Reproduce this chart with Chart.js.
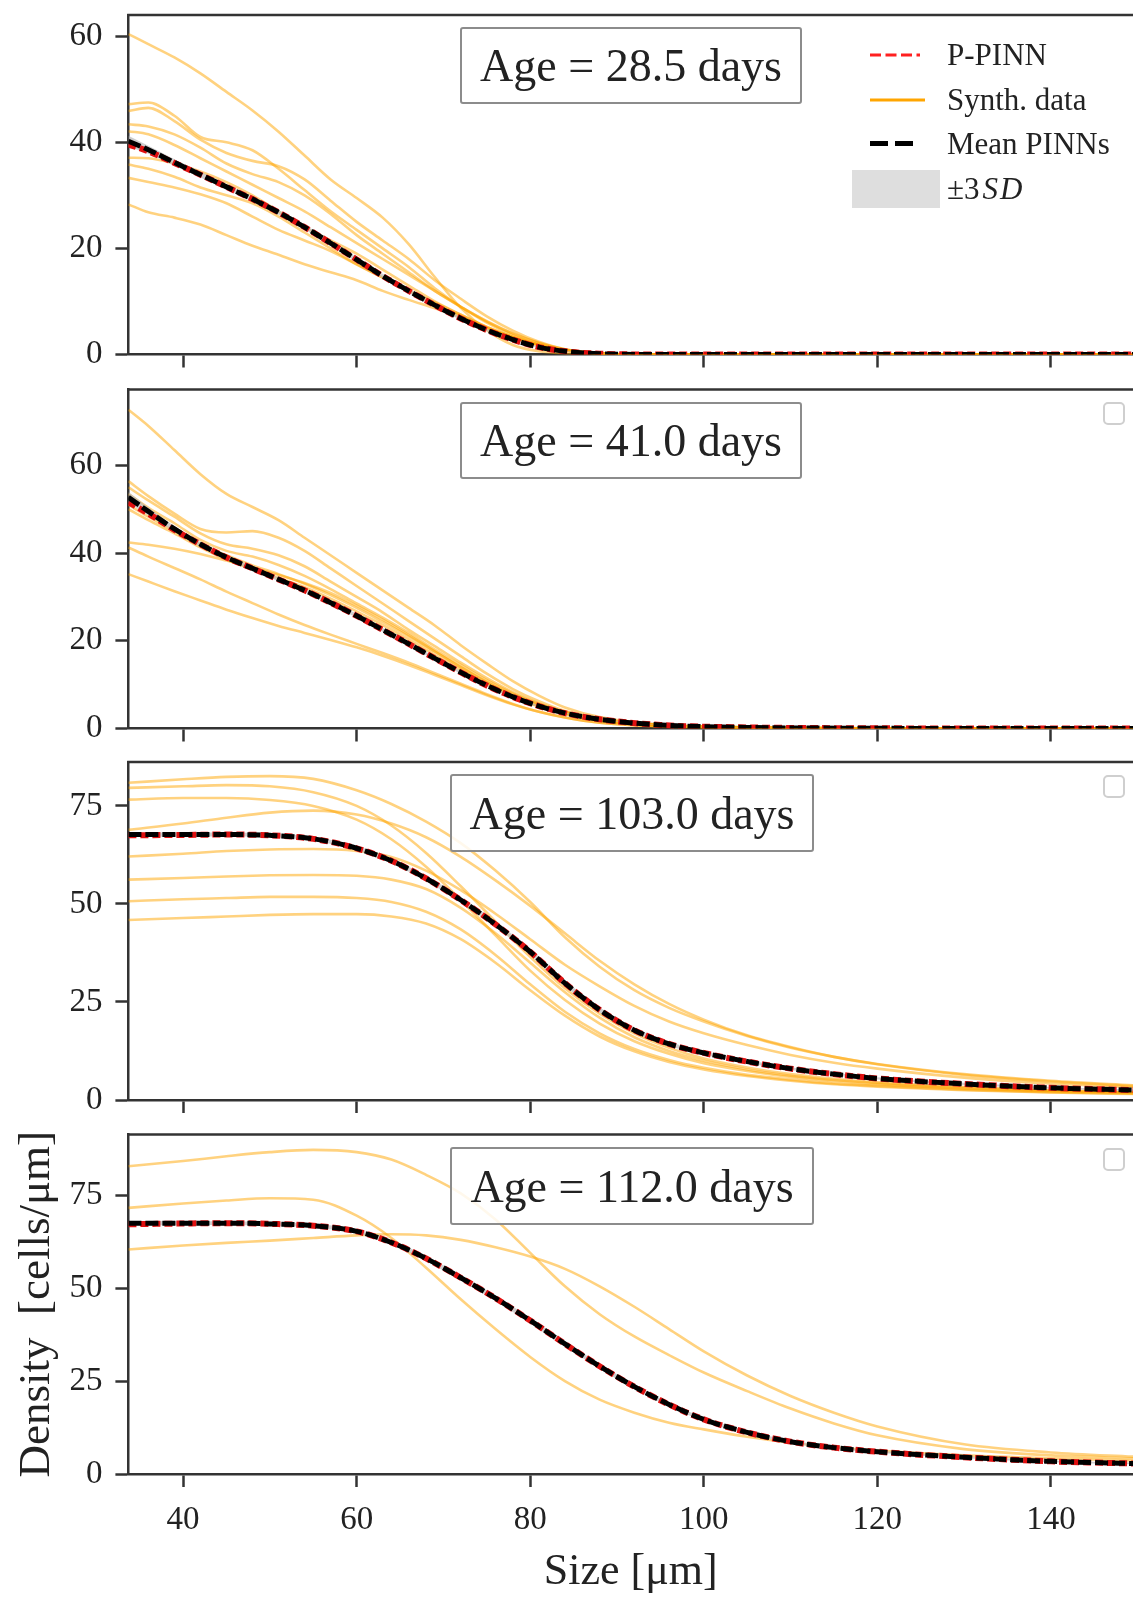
<!DOCTYPE html>
<html>
<head>
<meta charset="utf-8">
<title>P-PINN size density</title>
<script src="https://cdn.jsdelivr.net/npm/chart.js@4.4.1/dist/chart.umd.min.js"></script>
<style>
  body { margin: 0; background: #fff; }
  #page {
    position: relative; width: 1133px; height: 1610px; overflow: hidden;
    font-family: "Liberation Serif", "DejaVu Serif", serif; color: #222;
  }
  canvas { position: absolute; left: 0; }
  .age-box {
    position: absolute; box-sizing: border-box; z-index: 2;
    border: 2.5px solid #8c8c8c; border-radius: 3px;
    background: rgba(255, 255, 255, 0.85);
    font-size: 46px; display: flex; align-items: center; justify-content: center;
  }
  .empty-legend {
    position: absolute; box-sizing: border-box; z-index: 2;
    width: 22px; height: 23px; border: 2px solid #cfcfcf; border-radius: 5px;
    background: rgba(255, 255, 255, 0.8);
  }
  .legend-text {
    position: absolute; z-index: 2; font-size: 31px; line-height: 36px; white-space: nowrap;
  }
  .legend-text i { margin-left: 3px; letter-spacing: 2px; }
  #legend-marks { position: absolute; left: 840px; top: 40px; z-index: 2; }
</style>
</head>
<body>
<div id="page">
  <canvas id="panel1" width="1133" height="375" style="top:0px"></canvas>
  <canvas id="panel2" width="1133" height="372" style="top:375px"></canvas>
  <canvas id="panel3" width="1133" height="372" style="top:747px"></canvas>
  <canvas id="panel4" width="1133" height="491" style="top:1119px"></canvas>

  <div class="age-box" style="left:460px; top:27px; width:342px; height:77px;">Age = 28.5 days</div>
  <div class="age-box" style="left:460px; top:402px; width:342px; height:77px;">Age = 41.0 days</div>
  <div class="age-box" style="left:450px; top:774px; width:364px; height:78px;">Age = 103.0 days</div>
  <div class="age-box" style="left:450px; top:1147px; width:364px; height:78px;">Age = 112.0 days</div>

  <!-- legend of the first panel (no frame) -->
  <svg id="legend-marks" width="110" height="180">
    <line x1="30" y1="15" x2="80" y2="15" stroke="#ff2020" stroke-width="3.2" stroke-dasharray="11 4.5"/>
    <line x1="30" y1="60" x2="85" y2="60" stroke="#ffa500" stroke-width="3"/>
    <line x1="30" y1="103.5" x2="78" y2="103.5" stroke="#000" stroke-width="5" stroke-dasharray="18 7"/>
    <rect x="12" y="130" width="88" height="38" fill="#dedede"/>
  </svg>
  <div class="legend-text" style="left:947px; top:37px;">P-PINN</div>
  <div class="legend-text" style="left:947px; top:82px;">Synth. data</div>
  <div class="legend-text" style="left:947px; top:125.5px;">Mean PINNs</div>
  <div class="legend-text" style="left:947px; top:171px;">±3<i>SD</i></div>

  <!-- empty legends drawn by the other panels -->
  <div class="empty-legend" style="left:1103px; top:402px;"></div>
  <div class="empty-legend" style="left:1103px; top:775px;"></div>
  <div class="empty-legend" style="left:1103px; top:1148px;"></div>
</div>

<script>
/* ============================
   DATA
============================ */
// sizes in µm where the curves were sampled
const sizeEarly = [33.7, 36, 39, 42, 45, 48, 51, 54, 57, 60, 63, 66, 69, 72, 75, 78, 81, 84, 88, 95, 105, 120, 135, 150];
const sizeLate = [33.7, 40, 45, 50, 55, 60, 64, 68, 72, 76, 80, 84, 88, 92, 96, 100, 105, 110, 115, 120, 130, 140, 150];
const xTicks = [40, 60, 80, 100, 120, 140];
const yTicksLow = [0, 20, 40, 60];
const yTicksHigh = [0, 25, 50, 75];

// Age = 28.5 days
const mean1 = [40.2, 38.6, 36.2, 33.9, 31.6, 29.3, 26.8, 24.0, 21.0, 17.9, 14.8, 12.0, 9.3, 6.8, 4.6, 2.8, 1.4, 0.6, 0.15, 0, 0, 0, 0, 0];
const pinn1 = [39.6, 38.3, 36.1, 33.9, 31.6, 29.3, 26.8, 24.0, 21.0, 17.9, 14.8, 12.0, 9.3, 6.8, 4.6, 2.8, 1.4, 0.6, 0.15, 0, 0, 0, 0, 0];
const sd1 = [0.35, 0.25, 0.2, 0.18, 0.16, 0.15, 0.15, 0.15, 0.15, 0.15, 0.14, 0.13, 0.12, 0.1, 0.08, 0.06, 0.04, 0.03, 0.02, 0.01, 0, 0, 0, 0];
const synth1 = [
  [60.4, 58.5, 56.0, 53.0, 49.5, 46.0, 42.0, 37.5, 33.0, 29.5, 25.8, 20.8, 14.6, 8.8, 4.6, 1.8, 0.6, 0.2, 0, 0, 0, 0, 0, 0],
  [47.2, 47.5, 45.0, 41.0, 40.0, 38.5, 35.0, 31.0, 27.0, 23.5, 20.0, 16.5, 12.5, 9.0, 6.0, 3.6, 1.8, 0.7, 0.15, 0, 0, 0, 0, 0],
  [45.9, 46.5, 44.0, 40.5, 38.0, 36.5, 35.5, 33.0, 29.0, 25.0, 21.5, 18.0, 14.0, 10.5, 7.2, 4.5, 2.4, 1.0, 0.25, 0, 0, 0, 0, 0],
  [43.4, 43.0, 41.5, 39.0, 36.0, 34.0, 32.5, 30.0, 26.5, 22.5, 19.0, 15.5, 12.0, 9.0, 6.2, 3.9, 2.1, 0.9, 0.2, 0, 0, 0, 0, 0],
  [42.1, 41.5, 39.5, 37.0, 34.5, 32.0, 29.5, 27.0, 24.0, 21.0, 18.0, 15.0, 12.0, 9.0, 6.3, 4.0, 2.2, 1.0, 0.25, 0, 0, 0, 0, 0],
  [37.1, 37.0, 36.0, 34.5, 32.5, 30.0, 27.0, 24.0, 21.5, 19.0, 16.0, 13.0, 10.0, 7.5, 5.2, 3.3, 1.8, 0.8, 0.2, 0, 0, 0, 0, 0],
  [35.8, 35.0, 33.5, 31.5, 30.0, 28.5, 26.0, 23.0, 20.0, 17.0, 14.5, 12.0, 9.5, 7.2, 5.0, 3.2, 1.8, 0.8, 0.2, 0, 0, 0, 0, 0],
  [33.3, 32.5, 31.5, 30.2, 28.5, 26.0, 23.5, 21.5, 19.5, 17.0, 14.5, 12.0, 9.8, 7.5, 5.2, 3.3, 1.8, 0.8, 0.2, 0, 0, 0, 0, 0],
  [28.3, 26.8, 25.8, 24.5, 22.5, 20.5, 18.8, 17.0, 15.5, 14.0, 12.0, 10.3, 8.7, 7.0, 5.0, 3.2, 1.8, 0.8, 0.2, 0, 0, 0, 0, 0],
];

// Age = 41.0 days
const mean2 = [52.7, 49.5, 45.5, 42.0, 39.0, 36.5, 34.0, 31.5, 28.7, 25.7, 22.5, 19.3, 16.0, 12.8, 9.8, 7.2, 5.1, 3.5, 2.1, 0.8, 0.25, 0.05, 0, 0];
const pinn2 = [51.6, 49.0, 45.3, 42.0, 39.0, 36.5, 34.0, 31.5, 28.7, 25.7, 22.5, 19.3, 16.0, 12.8, 9.8, 7.2, 5.1, 3.5, 2.1, 0.8, 0.25, 0.05, 0, 0];
const sd2 = [0.4, 0.3, 0.22, 0.18, 0.16, 0.15, 0.15, 0.15, 0.15, 0.15, 0.14, 0.13, 0.12, 0.11, 0.1, 0.08, 0.06, 0.05, 0.04, 0.02, 0.01, 0, 0, 0];
const synth2 = [
  [72.7, 69.0, 63.5, 58.0, 53.5, 50.5, 47.5, 43.5, 39.5, 35.5, 31.5, 27.5, 23.5, 19.0, 14.8, 10.8, 7.5, 4.8, 2.6, 0.9, 0.3, 0.05, 0, 0],
  [56.4, 53.0, 49.0, 45.5, 44.7, 45.0, 43.5, 40.5, 36.5, 32.5, 28.5, 24.5, 20.5, 16.5, 12.5, 9.0, 6.2, 4.0, 2.2, 0.8, 0.25, 0.05, 0, 0],
  [55.0, 52.0, 48.3, 44.5, 42.0, 41.0, 39.5, 37.0, 33.5, 30.0, 26.5, 22.5, 18.8, 15.0, 11.5, 8.3, 5.7, 3.8, 2.1, 0.8, 0.25, 0.05, 0, 0],
  [53.5, 50.3, 46.8, 43.0, 40.5, 39.2, 37.3, 34.8, 31.8, 28.5, 25.3, 21.8, 18.0, 14.5, 11.0, 8.0, 5.6, 3.7, 2.0, 0.75, 0.2, 0.05, 0, 0],
  [51.0, 48.3, 45.0, 42.0, 39.5, 37.2, 35.2, 33.0, 30.4, 27.5, 24.3, 21.0, 17.5, 14.0, 10.6, 7.7, 5.3, 3.5, 1.9, 0.7, 0.2, 0.05, 0, 0],
  [50.0, 47.5, 44.5, 41.3, 38.5, 36.3, 34.3, 32.2, 29.6, 26.7, 23.6, 20.3, 16.8, 13.3, 10.0, 7.2, 5.0, 3.3, 1.8, 0.65, 0.2, 0.05, 0, 0],
  [42.4, 41.9, 41.0, 39.8, 38.3, 36.7, 35.0, 33.2, 30.9, 28.0, 24.8, 21.3, 17.6, 13.9, 10.4, 7.5, 5.1, 3.4, 1.8, 0.65, 0.2, 0.05, 0, 0],
  [41.3, 39.2, 36.6, 34.0, 31.2, 28.6, 26.0, 23.6, 21.4, 19.3, 17.2, 15.0, 12.6, 10.2, 7.8, 5.6, 3.8, 2.5, 1.3, 0.45, 0.15, 0, 0, 0],
  [35.2, 33.5, 31.3, 29.2, 27.1, 25.2, 23.4, 21.8, 20.2, 18.5, 16.6, 14.5, 12.2, 9.9, 7.6, 5.5, 3.8, 2.5, 1.3, 0.45, 0.15, 0, 0, 0],
];

// Age = 103.0 days
const mean3 = [67.7, 67.7, 67.7, 67.5, 66.6, 64.2, 61.0, 56.5, 51.0, 44.8, 37.8, 29.8, 23.0, 17.8, 14.3, 12.0, 9.8, 8.0, 6.6, 5.5, 4.1, 3.1, 2.5];
const pinn3 = [67.5, 67.6, 67.7, 67.5, 66.6, 64.2, 61.0, 56.5, 51.0, 44.8, 37.8, 29.8, 23.0, 17.8, 14.3, 12.0, 9.8, 8.0, 6.6, 5.5, 4.1, 3.1, 2.5];
const sd3 = [0.2, 0.18, 0.17, 0.17, 0.17, 0.18, 0.2, 0.22, 0.24, 0.25, 0.25, 0.24, 0.22, 0.2, 0.18, 0.16, 0.14, 0.12, 0.11, 0.1, 0.09, 0.08, 0.08];
const synth3 = [
  [80.9, 81.8, 82.4, 82.6, 81.9, 79.0, 75.5, 71.0, 65.5, 58.5, 50.5, 41.5, 34.0, 28.0, 23.5, 20.0, 16.3, 13.3, 11.0, 9.2, 6.6, 4.9, 3.7],
  [79.6, 80.0, 80.3, 80.0, 78.5, 75.0, 70.0, 63.0, 54.5, 45.5, 36.5, 28.5, 22.0, 17.0, 13.3, 10.6, 8.3, 6.6, 5.4, 4.5, 3.3, 2.5, 2.0],
  [76.6, 77.0, 77.0, 76.5, 75.0, 71.5, 66.5, 59.5, 51.0, 42.0, 33.0, 25.5, 19.5, 15.0, 11.8, 9.4, 7.4, 5.9, 4.8, 4.0, 2.9, 2.2, 1.8],
  [68.9, 70.5, 72.0, 73.3, 73.8, 72.8, 70.5, 67.0, 62.0, 56.0, 49.5, 42.5, 35.5, 29.5, 24.5, 20.5, 16.5, 13.5, 11.0, 9.1, 6.4, 4.7, 3.5],
  [62.1, 62.8, 63.5, 63.9, 64.0, 63.5, 62.0, 58.5, 53.5, 47.5, 41.0, 34.5, 29.0, 24.0, 20.0, 17.0, 14.0, 11.5, 9.5, 8.0, 5.7, 4.2, 3.2],
  [56.2, 56.6, 57.0, 57.3, 57.4, 57.2, 56.2, 53.8, 49.0, 42.5, 35.0, 27.5, 21.0, 16.0, 12.5, 10.0, 7.8, 6.2, 5.1, 4.3, 3.1, 2.4, 1.9],
  [50.7, 51.2, 51.5, 51.8, 51.8, 51.5, 50.5, 48.0, 43.5, 37.0, 29.5, 22.5, 17.0, 13.0, 10.2, 8.2, 6.4, 5.2, 4.2, 3.6, 2.6, 2.0, 1.6],
  [45.9, 46.4, 46.8, 47.2, 47.4, 47.4, 46.8, 45.0, 41.0, 35.0, 28.0, 21.5, 16.2, 12.4, 9.7, 7.8, 6.1, 4.9, 4.0, 3.4, 2.5, 1.9, 1.5],
];

// Age = 112.0 days
const mean4 = [67.5, 67.5, 67.5, 67.3, 66.8, 65.3, 62.3, 58.0, 52.8, 47.3, 41.3, 35.0, 29.0, 23.5, 18.7, 14.7, 11.2, 8.7, 7.1, 6.0, 4.5, 3.4, 2.8];
const pinn4 = [67.2, 67.4, 67.5, 67.3, 66.8, 65.3, 62.3, 58.0, 52.8, 47.3, 41.3, 35.0, 29.0, 23.5, 18.7, 14.7, 11.2, 8.7, 7.1, 6.0, 4.5, 3.4, 2.8];
const sd4 = [0.2, 0.18, 0.17, 0.17, 0.17, 0.18, 0.2, 0.22, 0.24, 0.25, 0.25, 0.24, 0.22, 0.2, 0.18, 0.16, 0.14, 0.12, 0.11, 0.1, 0.09, 0.08, 0.08];
const synth4 = [
  [82.8, 84.2, 85.5, 86.6, 87.2, 86.6, 84.6, 80.5, 75.5, 68.5, 59.5, 50.5, 43.0, 37.0, 32.0, 27.3, 22.3, 17.6, 13.6, 10.4, 6.7, 5.0, 4.2],
  [71.6, 72.8, 73.6, 74.2, 73.8, 69.5, 63.5, 55.5, 47.0, 39.0, 31.5, 25.0, 20.0, 16.5, 13.8, 12.0, 10.0, 8.4, 7.2, 6.3, 5.0, 4.2, 3.6],
  [60.4, 61.5, 62.2, 62.8, 63.5, 64.2, 64.5, 64.2, 63.0, 61.0, 58.5, 55.2, 50.5, 45.0, 39.0, 33.0, 26.5, 21.0, 16.5, 12.8, 8.0, 5.8, 4.6],
];

/* ============================
   STYLE
============================ */
const FONT_FAMILY = "'Liberation Serif', 'DejaVu Serif', serif";
const TEXT_COLOR = "#222";
const SPINE_COLOR = "#333";
const SYNTH_COLOR = "rgba(255, 165, 0, 0.5)";
const BAND_COLOR = "rgba(185, 185, 185, 0.7)";
const PLOT_LEFT = 128.4;
const X_MIN = 33.7;
const X_MAX = 149.46;

function pts(xs, ys) {
  return xs.map((x, i) => ({ x, y: ys[i] }));
}

// edge tick labels must not shrink the plot area
function noEdgePadding(axis) {
  axis.paddingTop = 0;
  axis.paddingBottom = 0;
  axis.paddingLeft = 0;
  axis.paddingRight = 0;
}

// matplotlib draws the top spine too
const topSpine = {
  id: "topSpine",
  afterDraw(chart) {
    const { ctx, chartArea } = chart;
    ctx.save();
    ctx.strokeStyle = SPINE_COLOR;
    ctx.lineWidth = 2.5;
    ctx.beginPath();
    ctx.moveTo(chartArea.left - 1.25, chartArea.top);
    ctx.lineTo(chartArea.right + 2, chartArea.top);
    ctx.stroke();
    ctx.restore();
  },
};

/* ============================
   PANELS
============================ */
function renderPanel(p) {
  const canvas = document.getElementById(p.id);
  const xAxisHeight = p.canvasTop + canvas.height - p.plotBottom;

  const datasets = [];
  p.synth.forEach((ys) => {
    datasets.push({ data: pts(p.xs, ys), borderColor: SYNTH_COLOR, borderWidth: 2.6, order: 40 });
  });
  const lower = p.mean.map((m, i) => m - 3 * p.sd[i]);
  const upper = p.mean.map((m, i) => m + 3 * p.sd[i]);
  datasets.push({ data: pts(p.xs, lower), borderWidth: 0, borderColor: "rgba(0,0,0,0)", order: 30 });
  datasets.push({ data: pts(p.xs, upper), borderWidth: 0, borderColor: "rgba(0,0,0,0)", backgroundColor: BAND_COLOR, fill: "-1", order: 30 });
  datasets.push({ data: pts(p.xs, p.pinn), borderColor: "#e01010", borderDash: [8, 4], borderWidth: 6, order: 20 });
  datasets.push({ data: pts(p.xs, p.mean), borderColor: "#000", borderDash: [13, 4], borderWidth: 5, order: 10 });

  new Chart(canvas.getContext("2d"), {
    type: "line",
    data: { datasets },
    options: {
      responsive: false,
      animation: false,
      devicePixelRatio: 1,
      layout: { autoPadding: false, padding: { top: p.plotTop - p.canvasTop, left: 0, right: 0, bottom: 0 } },
      elements: {
        point: { radius: 0 },
        line: { cubicInterpolationMode: "monotone", fill: false },
      },
      plugins: { legend: { display: false }, tooltip: { enabled: false } },
      scales: {
        x: {
          type: "linear",
          min: X_MIN,
          max: X_MAX,
          afterBuildTicks: (axis) => { axis.ticks = xTicks.map((v) => ({ value: v })); },
          afterFit: (axis) => { axis.height = xAxisHeight; noEdgePadding(axis); },
          border: { color: SPINE_COLOR, width: 2.5 },
          grid: { drawOnChartArea: false, tickLength: 13, tickColor: SPINE_COLOR, tickWidth: 2.5 },
          ticks: {
            display: p.bottom,
            maxRotation: 0,
            padding: 14,
            color: TEXT_COLOR,
            font: { family: FONT_FAMILY, size: 33 },
          },
          title: {
            display: p.bottom,
            text: "Size [μm]",
            color: TEXT_COLOR,
            font: { family: FONT_FAMILY, size: 44 },
            padding: { top: 0, bottom: 11 },
          },
        },
        y: {
          min: 0,
          max: p.yMax,
          afterBuildTicks: (axis) => { axis.ticks = p.yTicks.map((v) => ({ value: v })); },
          afterFit: (axis) => { axis.width = PLOT_LEFT; noEdgePadding(axis); },
          border: { color: SPINE_COLOR, width: 2.5 },
          grid: { drawOnChartArea: false, tickLength: 13, tickColor: SPINE_COLOR, tickWidth: 2.5 },
          ticks: {
            padding: 13,
            color: TEXT_COLOR,
            font: { family: FONT_FAMILY, size: 33 },
          },
          title: {
            display: p.bottom,
            text: "Density  [cells/μm]",
            color: TEXT_COLOR,
            font: { family: FONT_FAMILY, size: 45 },
            padding: { top: 10, bottom: 0 },
          },
        },
      },
    },
    plugins: [topSpine],
  });
}

renderPanel({ id: "panel1", canvasTop: 0, plotTop: 15, plotBottom: 354.5, yMax: 64, yTicks: yTicksLow,
  xs: sizeEarly, mean: mean1, pinn: pinn1, sd: sd1, synth: synth1, bottom: false });
renderPanel({ id: "panel2", canvasTop: 375, plotTop: 389.5, plotBottom: 728.5, yMax: 77.3, yTicks: yTicksLow,
  xs: sizeEarly, mean: mean2, pinn: pinn2, sd: sd2, synth: synth2, bottom: false });
renderPanel({ id: "panel3", canvasTop: 747, plotTop: 762, plotBottom: 1100, yMax: 86.2, yTicks: yTicksHigh,
  xs: sizeLate, mean: mean3, pinn: pinn3, sd: sd3, synth: synth3, bottom: false });
renderPanel({ id: "panel4", canvasTop: 1119, plotTop: 1134.5, plotBottom: 1474, yMax: 91.35, yTicks: yTicksHigh,
  xs: sizeLate, mean: mean4, pinn: pinn4, sd: sd4, synth: synth4, bottom: true });
</script>
</body>
</html>
